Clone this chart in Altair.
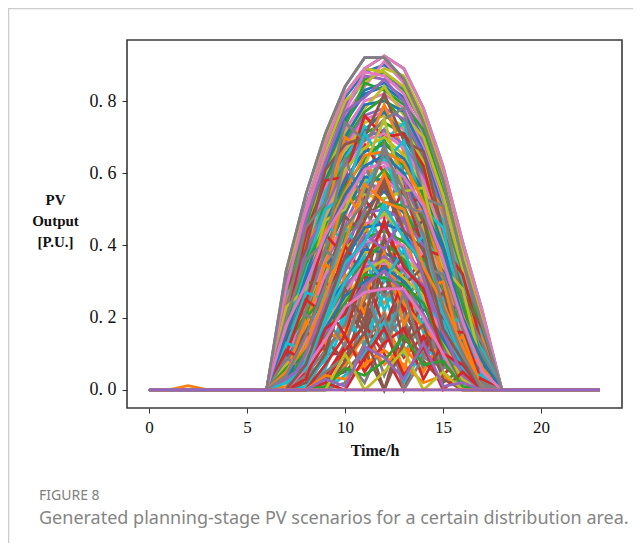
import altair as alt
import pandas as pd

hours = list(range(24))
tab10 = ["#1f77b4", "#ff7f0e", "#2ca02c", "#d62728", "#9467bd", "#8c564b", "#e377c2", "#7f7f7f", "#bcbd22", "#17becf"]

# Output for hours 6..18 (zero at all other hours)
high = [
    [0,.30,.50,.67,.81,.88,.90,.86,.75,.58,.37,.19,0],
    [0,.27,.47,.65,.78,.86,.88,.83,.73,.57,.38,.20,0],
    [0,.31,.51,.68,.79,.87,.86,.84,.74,.59,.36,.18,0],
    [0,.25,.46,.62,.76,.84,.91,.85,.72,.55,.34,.17,0],
    [0,.29,.49,.66,.80,.85,.89,.87,.76,.60,.39,.21,0],
    [0,.26,.45,.63,.75,.83,.85,.81,.71,.56,.35,.16,0],
    [0,.28,.50,.68,.82,.89,.925,.89,.78,.62,.41,.22,0],
    [0,.33,.54,.71,.84,.92,.92,.86,.74,.58,.36,.18,0],
    [0,.28,.48,.64,.77,.88,.87,.82,.70,.54,.33,.15,0],
    [0,.32,.50,.69,.82,.89,.88,.84,.74,.57,.37,.19,0],
    [0,.24,.44,.61,.74,.82,.84,.80,.69,.53,.32,.14,0],
    [0,.27,.46,.60,.73,.85,.83,.79,.72,.55,.31,.17,0],
    [0,.30,.47,.63,.77,.81,.86,.80,.68,.52,.35,.13,0],
    [0,.22,.42,.59,.72,.80,.82,.78,.67,.51,.30,.15,0],
    [0,.26,.43,.60,.71,.78,.84,.76,.70,.54,.33,.12,0],
    [0,.23,.40,.58,.70,.79,.80,.77,.66,.50,.29,.14,0],
    [0,.25,.44,.57,.69,.77,.81,.74,.64,.49,.31,.16,0],
    [0,.21,.41,.55,.68,.76,.78,.75,.65,.48,.28,.11,0],
    [0,.24,.39,.56,.67,.75,.77,.72,.62,.47,.30,.13,0],
    [0,.20,.38,.54,.66,.74,.76,.73,.63,.46,.27,.12,0],
    [0,.22,.37,.53,.65,.72,.77,.70,.60,.45,.26,.10,0],
    [0,.19,.36,.52,.63,.71,.74,.71,.61,.44,.28,.09,0],
    [0,.23,.38,.50,.62,.70,.72,.68,.59,.43,.25,.11,0],
    [0,.18,.34,.49,.60,.69,.71,.67,.58,.42,.24,.08,0],
    [0,.20,.33,.47,.61,.67,.70,.65,.56,.41,.23,.10,0],
    [0,.17,.32,.46,.58,.66,.68,.64,.55,.40,.22,.07,0],
    [0,.19,.35,.45,.56,.64,.69,.62,.54,.38,.24,.09,0],
    [0,.16,.30,.44,.55,.65,.66,.63,.52,.37,.21,.06,0],
    [0,.15,.31,.42,.54,.62,.65,.60,.50,.39,.20,.08,0],
    [0,.18,.29,.43,.52,.61,.63,.59,.51,.36,.19,.05,0],
]
middle = [
    [0,.14,.28,.40,.53,.60,.62,.57,.49,.34,.22,.07,0],
    [0,.12,.27,.41,.50,.58,.64,.56,.47,.35,.18,.04,0],
    [0,.16,.26,.38,.49,.59,.58,.60,.46,.33,.17,.06,0],
    [0,.10,.24,.37,.51,.55,.61,.54,.48,.31,.20,.03,0],
    [0,.13,.25,.35,.46,.57,.56,.58,.44,.30,.16,.05,0],
    [0,.09,.22,.36,.47,.52,.59,.53,.42,.32,.15,0,0],
    [0,.11,.23,.33,.44,.54,.53,.55,.45,.28,.14,.04,0],
    [0,.08,.20,.34,.42,.50,.55,.49,.41,.29,.13,0,0],
    [0,.12,.21,.31,.43,.48,.52,.51,.38,.27,.18,.03,0],
    [0,.07,.19,.30,.40,.49,.50,.47,.40,.25,.12,0,0],
    [0,.10,.18,.32,.38,.46,.48,.45,.37,.26,.11,.02,0],
    [0,.06,.17,.28,.39,.44,.49,.43,.35,.24,.10,0,0],
    [0,.09,.16,.27,.36,.45,.46,.44,.33,.22,.13,0,0],
    [0,.05,.20,.26,.34,.42,.44,.41,.36,.23,.09,0,0],
    [0,.08,.14,.25,.35,.40,.45,.39,.32,.21,.08,.02,0],
    [0,.04,.15,.24,.33,.41,.42,.40,.30,.20,.10,0,0],
    [0,.07,.13,.22,.31,.38,.40,.37,.31,.18,.07,0,0],
    [0,.03,.12,.23,.30,.39,.38,.35,.28,.19,.06,0,0],
    [0,.06,.11,.20,.28,.36,.41,.36,.27,.17,.05,0,0],
    [0,0,.10,.21,.29,.34,.37,.33,.29,.15,.08,0,0],
    [0,.05,.14,.18,.27,.35,.35,.34,.25,.16,.04,0,0],
    [0,0,.09,.19,.25,.33,.36,.31,.26,.13,.03,0,0],
    [0,.04,.08,.17,.26,.30,.34,.30,.23,.14,.06,0,0],
    [0,0,.12,.15,.24,.32,.31,.29,.24,.12,0,0,0],
    [0,.03,.07,.16,.22,.29,.33,.27,.21,.11,.05,0,0],
    [0,0,.06,.14,.23,.27,.28,.28,.20,.10,0,0,0],
]
low = [
    [0,0,0,.10,.10,.10,.20,.14,.10,.07,.02,0,0],
    [0,0,.05,.15,.15,.22,.12,.25,.18,.11,.03,0,0],
    [0,0,.02,.03,.13,.25,.33,.21,.13,.16,.08,.02,0],
    [0,0,0,.06,.19,.13,.28,.19,.24,.12,.04,0,0],
    [0,.02,.10,.21,.17,.30,.24,.32,.16,.09,0,0,0],
    [0,0,0,.04,.12,.08,.18,.09,.15,.04,.10,.03,0],
    [0,0,.03,.14,.08,.24,.16,.28,.12,.22,.06,0,0],
    [0,0,0,0,.06,.20,.04,.16,.20,.05,0,0,0],
    [0,0,.04,.08,.22,.12,.27,.10,.19,.13,.14,.02,0],
    [0,.01,.07,.12,.16,.06,.22,.05,.27,.11,.12,.01,0],
    [0,0,0,.02,.11,.18,.10,0,.14,.17,.03,0,0],
    [0,0,.06,.18,.24,.15,.31,.23,.10,.18,.09,0,0],
    [0,0,0,.05,.09,.02,.14,.20,.06,.10,.02,0,0],
    [0,0,.01,.09,.20,.28,.15,.26,.30,.20,.07,.02,0],
    [0,0,0,.01,.07,.15,.07,.12,.05,.15,0,0,0],
    [0,0,.05,.13,.26,.21,.36,.22,.29,.14,.11,0,0],
    [0,0,0,.03,.05,.11,0,.18,.08,.02,.06,0,0],
    [0,0,.04,.11,.18,.33,.26,.30,.21,.07,.03,0,0],
    [0,0,0,0,.04,.10,.19,.02,.11,.09,0,0,0],
    [0,.03,.09,.16,.14,.26,.38,.24,.17,.12,.02,0,0],
    [0,0,0,.07,.15,.05,.13,.17,.03,.13,.04,0,0],
    [0,0,.02,.10,.28,.19,.42,.29,.34,.15,.05,0,0],
    [0,0,0,0,.02,.13,.21,0,.09,.06,.08,.01,0],
    [0,0,.08,.19,.30,.37,.30,.39,.23,.19,.06,0,0],
    [0,0,0,.04,.03,.07,.11,.07,.02,.04,0,0,0],
    [0,0,.03,.17,.21,.35,.46,.34,.28,.10,.07,0,0],
    [0,0,0,0,.08,.16,0,.13,.18,.03,0,0,0],
    [0,0,.10,.24,.33,.43,.39,.48,.31,.16,.04,0,0],
    [0,0,0,.02,0,.09,.17,.04,.12,0,.05,0,0],
    [0,.02,.06,.20,.35,.41,.51,.42,.35,.21,.09,0,0],
    [0,0,0,.01,.06,.04,.08,.15,.07,.08,.01,0,0],
    [0,0,.07,.22,.37,.47,.58,.44,.39,.17,.08,0,0],
    [0,0,0,0,.10,0,.05,.11,0,.05,0,0,0],
    [0,.05,.12,.26,.41,.57,.52,.50,.34,.24,.12,0,0],
    [0,0,0,.03,.01,.12,.09,.03,.13,.01,.02,0,0],
    [0,.04,.15,.29,.45,.52,.66,.55,.43,.23,.10,0,0],
]
extra = [
    [0,.17,.36,.44,.60,.57,.72,.60,.60,.33,.27,.12,0],
    [0,.21,.33,.51,.48,.63,.55,.66,.44,.42,.21,.06,0],
    [0,.13,.29,.48,.57,.68,.60,.52,.53,.38,.25,.10,0],
    [0,.20,.40,.42,.59,.54,.67,.58,.46,.41,.15,.09,0],
    [0,.11,.31,.39,.52,.63,.48,.62,.57,.29,.23,.13,0],
    [0,.18,.26,.46,.41,.56,.65,.50,.42,.35,.26,.05,0],
    [0,.15,.37,.34,.55,.47,.60,.46,.51,.31,.19,.11,0],
    [0,.14,.24,.43,.37,.53,.44,.56,.39,.37,.17,.08,0],
    [0,.09,.30,.29,.48,.43,.57,.42,.47,.24,.22,.04,0],
    [0,.16,.22,.39,.33,.50,.40,.47,.34,.32,.12,.09,0],
    [0,.12,.27,.25,.45,.37,.52,.35,.43,.20,.19,.03,0],
    [0,.07,.18,.35,.28,.46,.33,.43,.28,.30,.10,.07,0],
    [0,.10,.25,.21,.40,.31,.47,.29,.37,.16,.16,.02,0],
    [0,.08,.15,.30,.24,.41,.27,.38,.22,.27,.07,.06,0],
    [0,.06,.21,.17,.36,.26,.43,.24,.33,.12,.13,0,0],
    [0,.13,.11,.27,.19,.37,.22,.34,.16,.25,.05,.04,0],
    [0,.05,.19,.13,.32,.21,.39,.18,.30,.09,.15,0,0],
    [0,.11,.08,.24,.15,.33,.17,.31,.11,.21,.03,.03,0],
    [0,.04,.16,.11,.27,.17,.35,.13,.25,.07,.11,0,0],
    [0,.09,.05,.20,.12,.29,.12,.27,.09,.18,.02,.02,0],
    [0,.26,.35,.55,.64,.73,.69,.74,.55,.47,.29,.15,0],
    [0,.24,.41,.48,.70,.66,.79,.66,.58,.50,.24,.14,0],
    [0,.19,.43,.58,.59,.76,.70,.71,.62,.40,.32,.12,0],
    [0,.28,.39,.61,.68,.70,.82,.69,.66,.44,.27,.17,0],
    [0,.22,.45,.52,.74,.69,.75,.78,.53,.51,.23,.13,0],
    [0,.16,.34,.50,.54,.71,.63,.69,.50,.45,.20,.11,0],
    [0,.23,.28,.47,.50,.62,.75,.55,.56,.34,.28,.06,0],
    [0,.20,.36,.41,.64,.51,.68,.51,.49,.36,.17,.10,0],
]
orange_bump = [0, 0, .012, 0, 0, 0, 0, 0, 0, 0, 0, 0, 0, 0, 0, 0, 0, 0, 0, 0, 0, 0, 0, 0]
flat_zero = [0] * 24

# Interleave so the colours cycle through the high, middle and low curves
mixed = []
for i in range(36):
    if i < len(high):
        mixed.append([0] * 6 + high[i] + [0] * 5)
    if i < len(low):
        mixed.append([0] * 6 + low[i] + [0] * 5)
    if i < len(middle):
        mixed.append([0] * 6 + middle[i] + [0] * 5)
    if i < len(extra):
        mixed.append([0] * 6 + extra[i] + [0] * 5)
pink = [0] * 6 + high[6] + [0] * 5
grey = [0] * 6 + high[7] + [0] * 5

rows = []
for s, values in enumerate(mixed):
    for h, v in zip(hours, values):
        rows.append({"series": f"s{s:03d}", "hour": h, "value": v, "color": tab10[(s * 3) % 10]})
for name, values, col in [("x_bump", orange_bump, tab10[1]), ("x_pink", pink, tab10[6]), ("x_grey", grey, tab10[7]), ("x_zero", flat_zero, tab10[4])]:
    for h, v in zip(hours, values):
        rows.append({"series": name, "hour": h, "value": v, "color": col})
df = pd.DataFrame(rows)

x_ticks = [0, 5, 10, 15, 20]
y_ticks = [0.0, 0.2, 0.4, 0.6, 0.8]
serif = "Liberation Serif"

lines = alt.Chart(df).mark_line(strokeWidth=2.8, clip=True).encode(
    x=alt.X("hour:Q", scale=alt.Scale(domain=[-1.122, 24.13], nice=False, zero=False),
            axis=alt.Axis(values=x_ticks, title="Time/h", grid=False, domain=False, tickColor="#333", tickSize=5,
                          labelFont=serif, labelFontSize=17, labelColor="#111", labelPadding=6, titleFont=serif,
                          titleFontSize=16, titleFontWeight="bold", titleColor="#111", titlePadding=7)),
    y=alt.Y("value:Q", scale=alt.Scale(domain=[-0.05, 0.969], nice=False, zero=False),
            axis=alt.Axis(values=y_ticks, grid=False, domain=False, tickColor="#333", tickSize=5,
                          labelExpr="replace(format(datum.value,'.1f'),'.','. ')",
                          labelFont=serif, labelFontSize=18, labelColor="#111", labelPadding=6,
                          title=["PV", "Output", "[P.U.]"], titleAngle=0, titleAlign="center", titleBaseline="top",
                          titleX=-72, titleY=152, titleFont=serif, titleFontSize=15, titleFontWeight="bold",
                          titleColor="#111", titleLineHeight=21)),
    detail="series:N",
    color=alt.Color("color:N", scale=None),
)

caption_a = alt.Chart(pd.DataFrame({"t": ["FIGURE 8"]})).mark_text(
    align="left", baseline="middle", font="Noto Sans", fontSize=14, color="#808080"
).encode(x=alt.value(-88), y=alt.value(456), text="t:N")
caption_b = alt.Chart(pd.DataFrame({"t": ["Generated planning-stage PV scenarios for a certain distribution area."]})).mark_text(
    align="left", baseline="middle", font="Noto Sans", fontSize=18, color="#858585"
).encode(x=alt.value(-88), y=alt.value(479), text="t:N")

card_top = alt.Chart(pd.DataFrame({"a": [0]})).mark_rule(color="#cccccc", strokeWidth=1.5).encode(
    x=alt.value(-119), x2=alt.value(506), y=alt.value(-31.5))
card_left = alt.Chart(pd.DataFrame({"a": [0]})).mark_rule(color="#cccccc", strokeWidth=1.5).encode(
    x=alt.value(-118.5), y=alt.value(-32), y2=alt.value(503))

chart = alt.layer(card_top, card_left, lines, caption_a, caption_b).properties(
    width=495, height=368,
    padding={"left": 119, "top": 32, "right": 11, "bottom": 135},
    autosize=alt.AutoSizeParams(type="none"),
    background="white",
).configure_view(stroke="#3a3a3a", strokeWidth=1.6)

chart.save("out.html", embed_options={"renderer": "svg", "actions": False})
